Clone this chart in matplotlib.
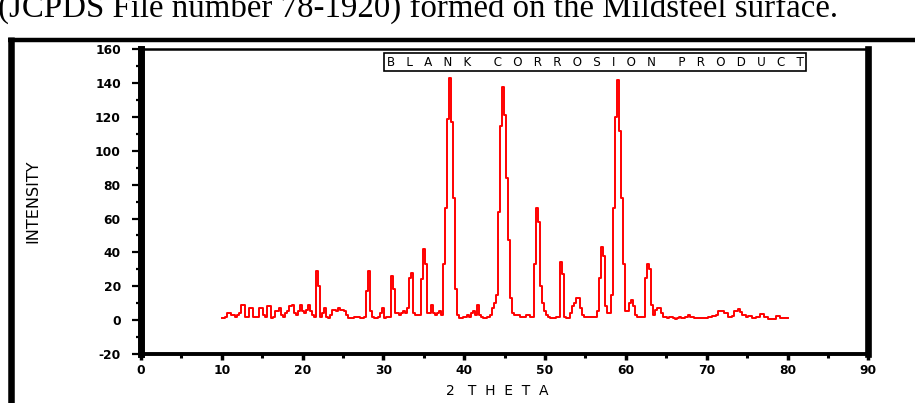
import numpy as np
import matplotlib
matplotlib.use('Agg')
from matplotlib import pyplot as plt
from matplotlib.lines import Line2D
from matplotlib.ticker import MultipleLocator

plt.rcParams['axes.unicode_minus'] = False

# XRD scan of the blank corrosion product, 0.25 deg steps from 10 to 80 (2 theta)
TWO_THETA_START = 10.0
TWO_THETA_STEP = 0.25

# one row per degree: 10.00, 10.25, 10.50, 10.75 ...
intensity = [
    1, 1, 2, 4,          # 10
    4, 3, 3, 2,          # 11
    3, 4, 9, 9,          # 12
    2, 2, 7, 7,          # 13
    2, 2, 2, 7,          # 14
    7, 3, 2, 8,          # 15
    8, 1, 2, 5,          # 16
    5, 7, 3, 2,          # 17
    4, 5, 8, 9,          # 18
    4, 3, 5, 9,          # 19
    5, 4, 6, 9,          # 20
    5, 3, 2, 29,         # 21
    20, 2, 4, 7,         # 22
    2, 1, 3, 6,          # 23
    6, 5, 7, 6,          # 24
    6, 5, 3, 1,          # 25
    1, 1, 2, 2,          # 26
    2, 1, 1, 2,          # 27
    17, 29, 5, 2,        # 28
    1, 1, 2, 4,          # 29
    7, 1, 2, 2,          # 30
    26, 18, 4, 4,        # 31
    3, 4, 5, 4,          # 32
    7, 25, 28, 4,        # 33
    3, 3, 3, 24,         # 34
    42, 33, 4, 4,        # 35
    9, 4, 3, 4,          # 36
    5, 3, 33, 66,        # 37
    119, 143, 117, 72,   # 38
    18, 3, 1, 1,         # 39
    2, 2, 3, 2,          # 40
    4, 5, 3, 9,          # 41
    3, 2, 1, 1,          # 42
    2, 3, 7, 10,         # 43
    15, 64, 115, 138,    # 44
    121, 84, 47, 13,     # 45
    4, 3, 3, 3,          # 46
    2, 2, 2, 3,          # 47
    3, 2, 2, 33,         # 48
    66, 58, 20, 10,      # 49
    5, 3, 2, 1,          # 50
    1, 1, 2, 2,          # 51
    34, 27, 2, 1,        # 52
    1, 4, 8, 10,         # 53
    13, 13, 7, 3,        # 54
    2, 2, 2, 2,          # 55
    2, 2, 5, 25,         # 56
    43, 38, 8, 4,        # 57
    4, 15, 66, 120,      # 58
    142, 112, 72, 33,    # 59
    5, 5, 10, 12,        # 60
    8, 3, 2, 2,          # 61
    2, 2, 25, 33,        # 62
    30, 9, 3, 6,         # 63
    7, 7, 4, 2,          # 64
    2, 1, 2, 2,          # 65
    1, 0.5, 1, 1.5,      # 66
    1, 1, 2, 3,          # 67
    2, 2, 1, 1,          # 68
    1, 1, 1, 1,          # 69
    1, 1.5, 1.5, 2.5,    # 70
    2.5, 3, 5, 5,        # 71
    5.5, 4, 4, 1.5,      # 72
    1.5, 2.5, 5, 5,      # 73
    6.5, 4.5, 3, 3,      # 74
    1.5, 2.5, 2.5, 1,    # 75
    1, 2, 2, 3.5,        # 76
    3.5, 2, 2, 0.5,      # 77
    0.5, 0.5, 0.5, 2.5,  # 78
    2.5, 1, 1, 1,        # 79
    1,                   # 80
]

two_theta = TWO_THETA_START + TWO_THETA_STEP * np.arange(len(intensity))

caption = '(JCPDS File number 78-1920) formed on the Mildsteel surface.'
sample_name = 'BLANK CORROSION PRODUCT'


def spaced(s, n, gap):
    # old plotting package drew labels letter-spaced
    return (' ' * gap).join((' ' * n).join(w) for w in s.split())


fig = plt.figure(figsize=(9.15, 4.03), dpi=100)
ax = fig.add_axes([0.1541, 0.1223, 0.7949, 0.7549])

ax.step(two_theta, intensity, where='mid', color='#ff0000', lw=1.4)

ax.set_xlim(0, 90)
ax.set_ylim(-20, 160)
ax.xaxis.set_major_locator(MultipleLocator(10))
ax.xaxis.set_minor_locator(MultipleLocator(5))
ax.yaxis.set_major_locator(MultipleLocator(20))
ax.yaxis.set_minor_locator(MultipleLocator(10))

ax.spines['left'].set_linewidth(5)
ax.spines['right'].set_linewidth(4.8)
ax.spines['top'].set_linewidth(1.8)
ax.spines['bottom'].set_linewidth(2.8)

ax.tick_params(axis='y', which='major', direction='out', length=6.5, width=1.6,
               pad=8, labelsize=8.8)
ax.tick_params(axis='y', which='minor', direction='out', length=3.5, width=1.6)
ax.tick_params(axis='x', which='major', direction='out', length=4, width=2.5,
               pad=3.5, labelsize=8.8)
ax.tick_params(axis='x', which='minor', direction='out', length=3, width=2.2)
for lab in ax.get_xticklabels() + ax.get_yticklabels():
    lab.set_fontweight('bold')

ax.text(56.2, 152.5, spaced(sample_name, 3, 6), ha='center', va='center',
        fontsize=8.6,
        bbox=dict(boxstyle='square,pad=0.2', fc='white', ec='black', lw=1.2))

fig.text(33 / 915, 1 - 201 / 403, 'INTENSITY', rotation=90, ha='center',
         va='center', fontsize=11.5)
fig.text(497 / 915, 1 - 391 / 403, spaced('2 THETA', 2, 3), ha='center',
         va='center', fontsize=10)

# page text and frame around the figure
fig.text(-2 / 915, 1 - 16.7 / 403, caption, ha='left', va='baseline',
         fontsize=23.7, family=['Liberation Serif', 'DejaVu Serif'])
fig.add_artist(Line2D([11 / 915, 11 / 915], [0, 1 - 37.3 / 403],
                      color='black', lw=4.7, solid_capstyle='butt'))
fig.add_artist(Line2D([7.7 / 915, 1], [1 - 39.5 / 403, 1 - 39.5 / 403],
                      color='black', lw=3.2, solid_capstyle='butt'))

fig.savefig('out.png', dpi=100)
